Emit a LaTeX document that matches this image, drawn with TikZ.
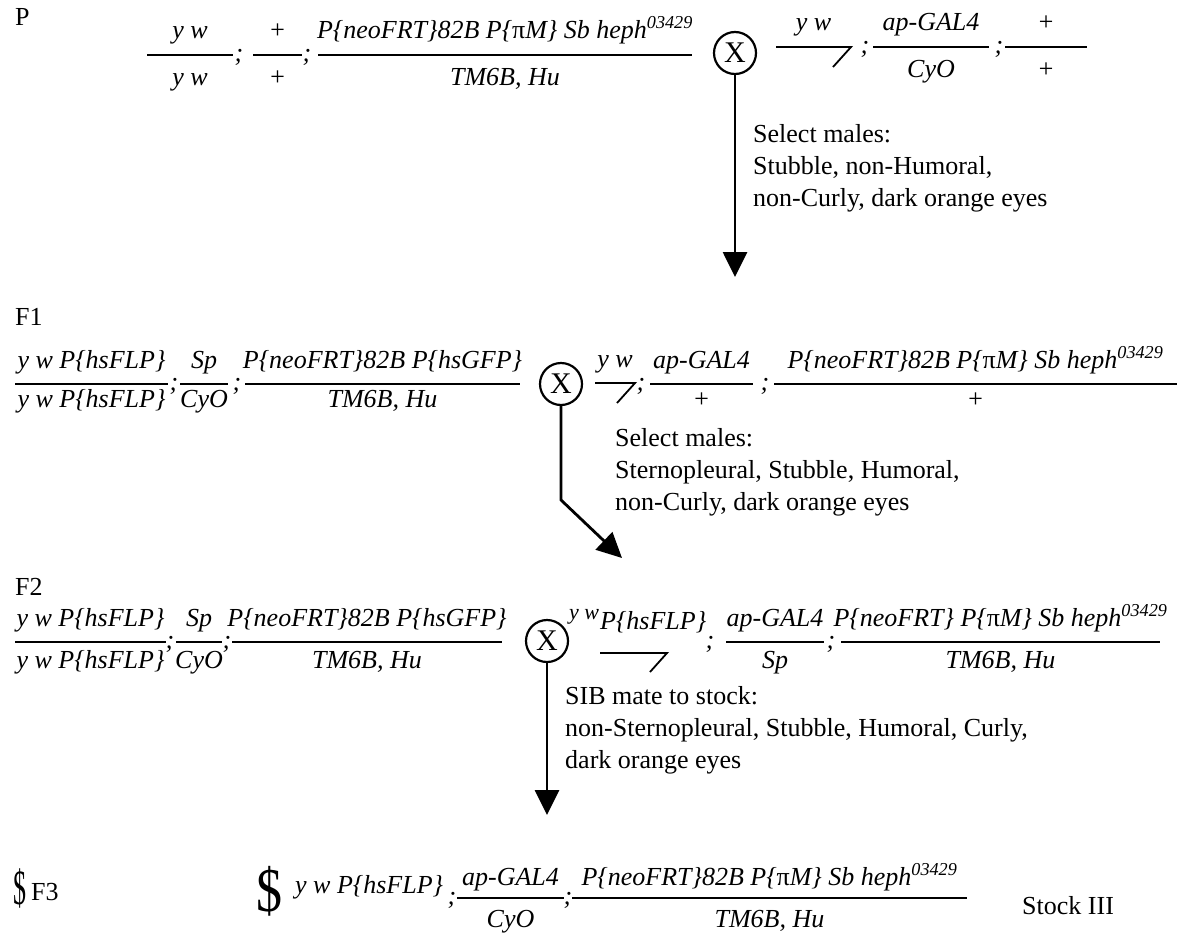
\documentclass[tikz,border=0pt]{standalone}
\usepackage{fontspec}
\usepackage{graphicx}
\setmainfont{Liberation Serif}
\usetikzlibrary{arrows.meta}

\newcommand\gsize{\fontsize{26}{32}\selectfont}
% distances of the upper and lower genotype baselines from the bar
\newcommand\nof{17}
\newcommand\dof{30}

% genotype fraction: name, left x, right x, bar y, upper text, lower text
\newcommand\genofrac[6]{%
  \draw[fracline] (#2,#4) -- (#3,#4);
  \node[gen] (#1n) at ({(#2+#3)/2},{#4-\nof}) {#5};
  \node[gen] (#1d) at ({(#2+#3)/2},{#4+\dof}) {#6};
}
% male chromosome bar with hook: name, left x, right x, bar y, upper text
\newcommand\malesym[5]{%
  \draw[fracline] (#2,#4) -- (#3,#4) -- ({#3-18},{#4+20});
  \node[gen] (#1) at ({(#2+#3)/2},{#4-\nof}) {#5};
}
% semicolon between chromosomes: name, x, bar y
\newcommand\semicol[3]{%
  \node[gen] (#1) at (#2,{#3+6}) {;};
}
\newcommand\hephallele{heph\textsuperscript{03429}}
\newcommand\piM{P\{\textup{π}M\}}

\begin{document}
\begin{tikzpicture}[x=1pt,y=-1pt,
  gen/.style={font=\gsize\itshape, anchor=base, inner sep=0pt},
  lab/.style={font=\gsize, anchor=base west, inner sep=0pt},
  note/.style={font=\gsize, anchor=north west, align=left, inner sep=0pt},
  sym/.style={inner sep=0pt, anchor=center},
  fracline/.style={line width=1.8pt},
  cross/.style={draw, circle, line width=2.2pt, minimum size=42pt, inner sep=0pt,
    font=\fontsize{30}{32}\selectfont},
  arr/.style={line width=2.8pt, -{Triangle[width=24pt,length=25pt]}}]

\fill[white] (0,0) rectangle (1177,945);
\useasboundingbox (0,0) rectangle (1177,945);

% ---------- P generation ----------
\node[lab] (lP) at (15,25) {P};
\genofrac{pa}{147}{233}{55}{y w}{y w}
\semicol{ps1}{239}{55}
\genofrac{pb}{253}{302}{55}{+}{+}
\semicol{ps2}{307}{55}
\genofrac{pc}{318}{692}{55}{P\{neoFRT\}82B \piM\ Sb \hephallele}{TM6B, Hu}
\node[cross] (xP) at (735,53) {X};
\malesym{pm}{776}{851}{47}{y w}
\semicol{ps3}{865}{47}
\genofrac{pd}{873}{989}{47}{ap-GAL4}{CyO}
\semicol{ps4}{999}{47}
\genofrac{pe}{1005}{1087}{47}{+}{+}

\coordinate (pEnd) at (735,277);
\draw[arr] (xP.south) -- (pEnd);
\node[note] (selP) at (753,124) {Select males:\\Stubble, non-Humoral,\\non-Curly, dark orange eyes};

% ---------- F1 generation ----------
\renewcommand\nof{16}\renewcommand\dof{23}
\node[lab] (lF1) at (15,325) {F1};
\genofrac{fa}{15}{168}{384}{y w P\{hsFLP\}}{y w P\{hsFLP\}}
\semicol{fs1}{174}{384}
\genofrac{fb}{180}{228}{384}{Sp}{CyO}
\semicol{fs2}{237}{384}
\genofrac{fc}{245}{520}{384}{P\{neoFRT\}82B P\{hsGFP\}}{TM6B, Hu}
\node[cross] (xF1) at (561,384) {X};
\malesym{fm}{595}{635}{383}{y w}
\semicol{fs3}{641}{384}
\genofrac{fd}{650}{753}{384}{ap-GAL4}{+}
\semicol{fs4}{765}{384}
\genofrac{fe}{774}{1177}{384}{P\{neoFRT\}82B \piM\ Sb \hephallele}{+}

\coordinate (f1Bend) at (561,500);
\coordinate (f1End) at (622,558);
\draw[arr] (xF1.south) -- (f1Bend) -- (f1End);
\node[note] (selF1) at (615,428) {Select males:\\Sternopleural, Stubble, Humoral,\\non-Curly, dark orange eyes};

% ---------- F2 generation ----------
\renewcommand\nof{16}\renewcommand\dof{26}
\node[lab] (lF2) at (15,595) {F2};
\genofrac{ga}{15}{166}{642}{y w P\{hsFLP\}}{y w P\{hsFLP\}}
\semicol{gs1}{170}{642}
\genofrac{gb}{176}{222}{642}{Sp}{CyO}
\semicol{gs2}{227}{642}
\genofrac{gc}{232}{502}{642}{P\{neoFRT\}82B P\{hsGFP\}}{TM6B, Hu}
\node[cross] (xF2) at (547,641) {X};
\node[gen, font=\fontsize{22}{24}\selectfont\itshape, anchor=base west] (gmy) at (569,619) {y w};
\node[gen, anchor=base west] (gmn) at (600,629) {P\{hsFLP\}};
\draw[fracline] (600,653) -- (667,653) -- (650,672);
\semicol{gs3}{710}{642}
\genofrac{gd}{726}{824}{642}{ap-GAL4}{Sp}
\semicol{gs4}{831}{642}
\genofrac{ge}{841}{1160}{642}{P\{neoFRT\} \piM\ Sb \hephallele}{TM6B, Hu}

\coordinate (f2End) at (547,815);
\draw[arr] (xF2.south) -- (f2End);
\node[note] (selF2) at (565,686) {SIB mate to stock:\\non-Sternopleural, Stubble, Humoral, Curly,\\dark orange eyes};

% ---------- F3 stock ----------
\renewcommand\nof{13}\renewcommand\dof{29}
\node[sym] (smallDollar) at (20,888) {\fontsize{26}{28}\selectfont\scalebox{1}[1.9]{\$}};
\node[lab] (lF3) at (31,900) {F3};
\node[sym] (bigDollar) at (269,891) {\fontsize{52}{54}\selectfont\scalebox{1}[1.2]{\$}};
\node[gen, anchor=base west] (hsn) at (295,893) {y w P\{hsFLP\}};
\semicol{hs1}{452}{898}
\genofrac{ha}{457}{564}{898}{ap-GAL4}{CyO}
\semicol{hs2}{568}{898}
\genofrac{hb}{572}{967}{898}{P\{neoFRT\}82B \piM\ Sb \hephallele}{TM6B, Hu}
\node[lab] (stock) at (1022,914) {Stock III};
\end{tikzpicture}
\end{document}
